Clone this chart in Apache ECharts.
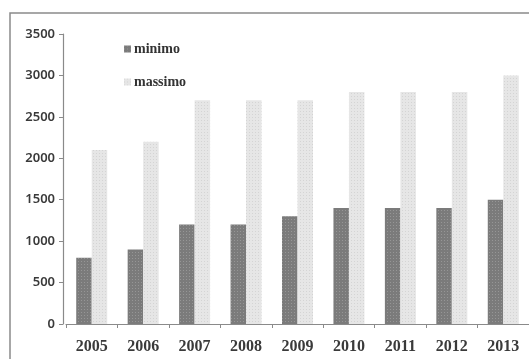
<!DOCTYPE html>
<html>
<head>
<meta charset="utf-8">
<script src="https://cdn.jsdelivr.net/npm/echarts@6/dist/echarts.min.js"></script>
<style>
  html, body { margin: 0; padding: 0; background: #fff; }
  #chart { width: 529px; height: 359px; }
</style>
</head>
<body>
<div id="chart"></div>
<script>
// Anni e valori minimi / massimi
const anni = ['2005', '2006', '2007', '2008', '2009', '2010', '2011', '2012', '2013'];
const minimo = [800, 900, 1200, 1200, 1300, 1400, 1400, 1400, 1500];
const massimo = [2100, 2200, 2700, 2700, 2700, 2800, 2800, 2800, 3000];

const chart = echarts.init(document.getElementById('chart'));

// dotted texture used on both series
function dots(color) {
  return {
    symbol: 'rect',
    symbolSize: 1,
    color: color,
    dashArrayX: [1, 2],
    dashArrayY: [1, 2],
    rotation: 0
  };
}

chart.setOption({
  animation: false,
  graphic: [{
    type: 'rect',
    shape: { x: 10, y: 13, width: 600, height: 400 },
    style: { fill: 'none', stroke: '#8a8a8a', lineWidth: 1.5 },
    silent: true
  }],
  legend: {
    orient: 'vertical',
    left: 119,
    top: 37,
    itemWidth: 7,
    itemHeight: 7,
    itemGap: 19,
    icon: 'rect',
    textStyle: {
      fontFamily: 'Liberation Serif',
      fontSize: 14,
      fontWeight: 'bold',
      color: '#333',
      padding: [0, 0, 0, -2]
    },
    data: ['minimo', 'massimo']
  },
  grid: { left: 66, right: -3, top: 34, bottom: 35 },
  xAxis: {
    type: 'category',
    data: anni,
    boundaryGap: true,
    axisLine: { lineStyle: { color: '#8a8a8a', width: 1.2 } },
    axisTick: { show: true, length: 4, alignWithLabel: false, lineStyle: { color: '#8a8a8a' } },
    axisLabel: {
      margin: 15,
      fontFamily: 'Liberation Serif',
      fontSize: 16,
      fontWeight: 'bold',
      color: '#3a3a3a'
    }
  },
  yAxis: {
    type: 'value',
    min: 0,
    max: 3500,
    interval: 500,
    offset: 3,
    splitLine: { show: false },
    axisLine: { show: true, lineStyle: { color: '#8a8a8a', width: 1.2 } },
    axisTick: { show: true, length: 4, inside: false, lineStyle: { color: '#8a8a8a' } },
    axisLabel: {
      margin: 8,
      formatter: (v) => String(v),
      fontFamily: 'Noto Sans',
      fontSize: 13,
      fontWeight: 600,
      color: '#3a3a3a'
    }
  },
  series: [
    {
      name: 'minimo',
      type: 'bar',
      data: minimo,
      barWidth: 15.5,
      barGap: '0%',
      itemStyle: { color: '#7b7b7b', decal: dots('rgba(200,200,200,0.35)') }
    },
    {
      name: 'massimo',
      type: 'bar',
      data: massimo,
      barWidth: 15.5,
      itemStyle: { color: '#e6e6e6', decal: dots('rgba(190,190,190,0.45)') }
    }
  ]
});
</script>
</body>
</html>
